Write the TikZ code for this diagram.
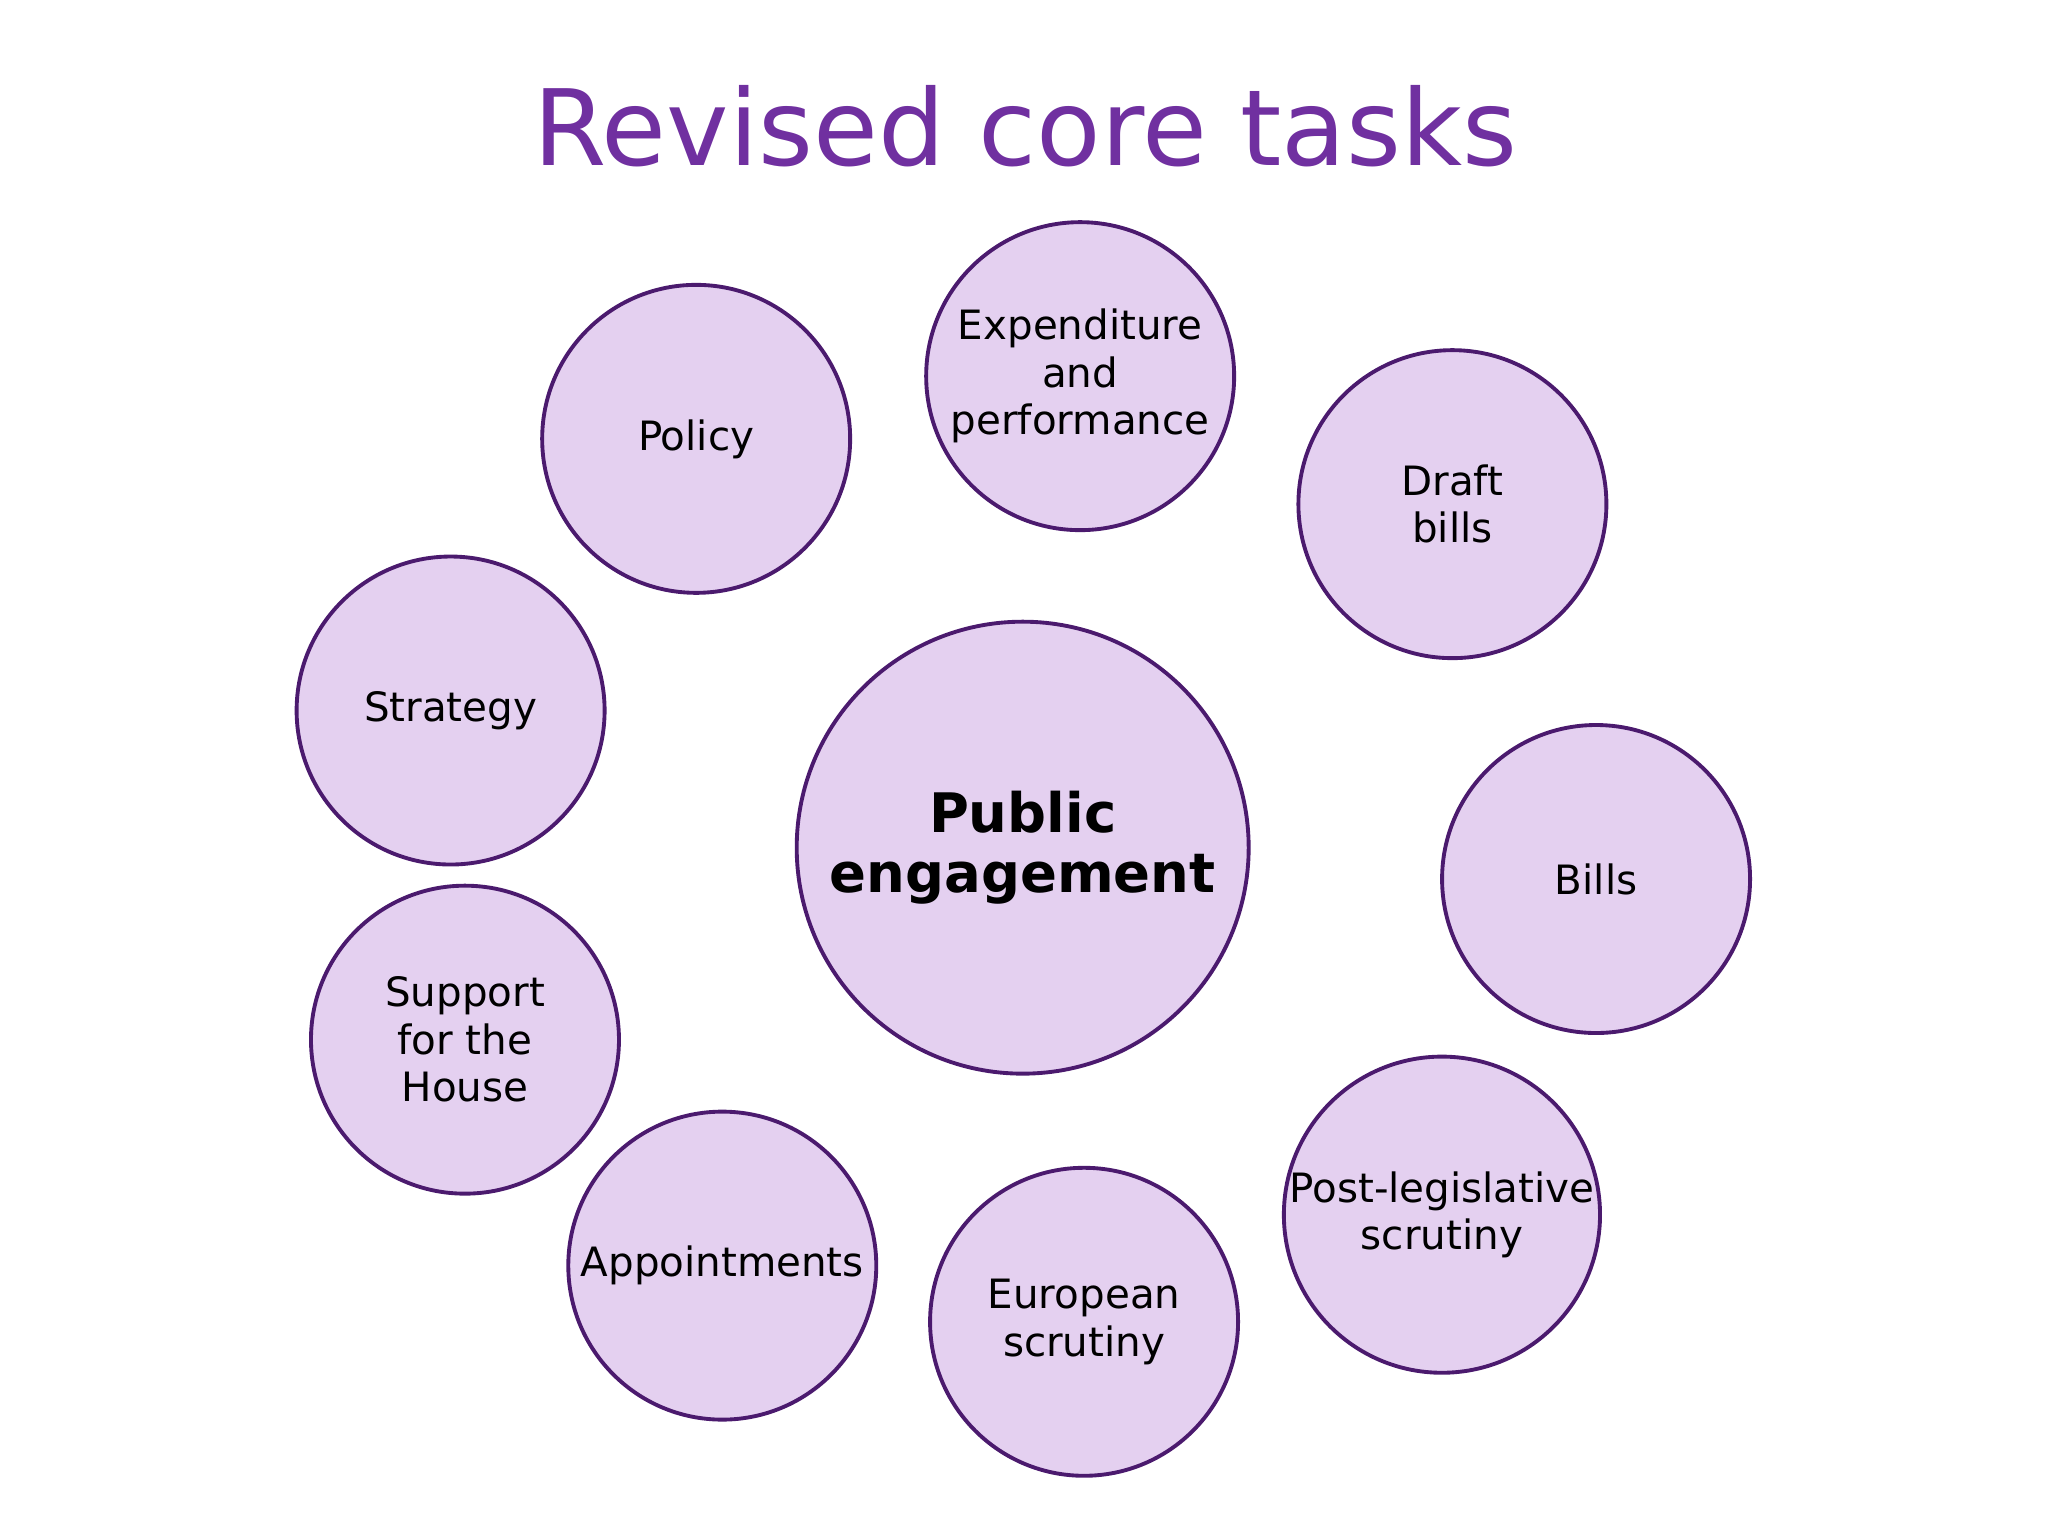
\documentclass[tikz,border=0pt]{standalone}
\usepackage{fontspec}
\setmainfont{DejaVu Sans}
\definecolor{cfill}{HTML}{E4D0F0}
\definecolor{cdraw}{HTML}{4B1A6E}
\definecolor{ctitle}{HTML}{7030A0}
\begin{document}
\begin{tikzpicture}[x=0.013061cm,y=-0.013061cm,
  task/.style={circle,draw=cdraw,fill=cfill,line width=1.1pt,minimum size=3.08cm,inner sep=0pt,align=center,font=\fontsize{11.5}{13.5}\selectfont},
  hub/.style={task,minimum size=4.52cm,font=\bfseries\fontsize{15.5}{17}\selectfont}]
\useasboundingbox (0,0) rectangle (1568,1176);
\node[text=ctitle,font=\fontsize{30}{36}\selectfont] (title) at (785,97) {Revised core tasks};
\node[hub] (pe) at (783,649) {Public\\engagement};
\node[task] (pol) at (533,336) {Policy};
\node[task] (exp) at (827,288) {Expenditure\\and\\performance};
\node[task] (draft) at (1112,386) {Draft\\bills};
\node[task] (str) at (345,544) {Strategy};
\node[task] (bills) at (1222,673) {Bills};
\node[task] (sup) at (356,796) {Support\\for the\\House};
\node[task] (app) at (553,969) {Appointments};
\node[task] (eur) at (830,1012) {European\\scrutiny};
\node[task] (post) at (1104,930) {Post-legislative\\scrutiny};
\end{tikzpicture}
\end{document}
